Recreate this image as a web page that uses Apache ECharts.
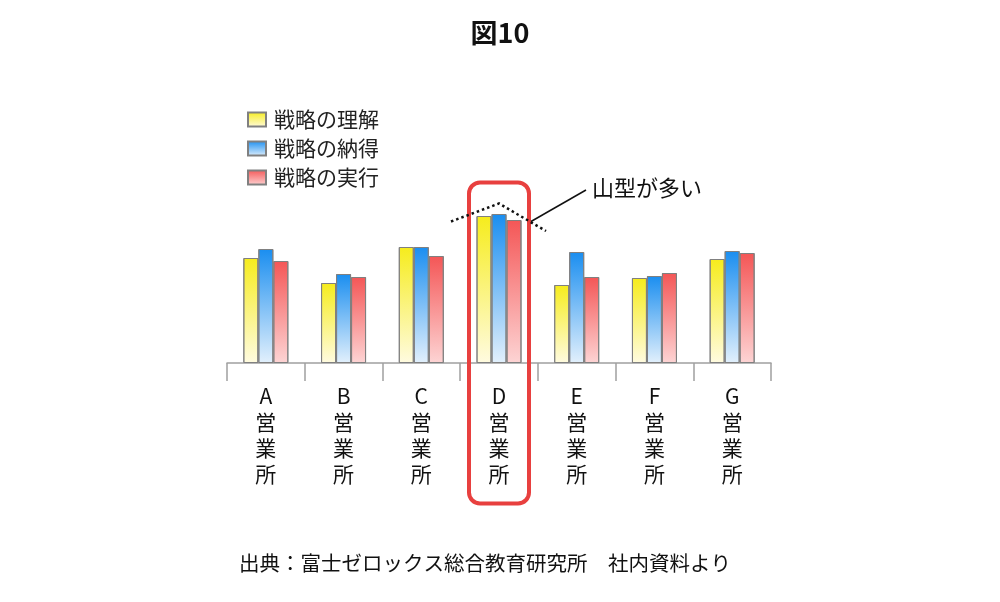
<!DOCTYPE html>
<html>
<head>
<meta charset="utf-8">
<script src="https://cdn.jsdelivr.net/npm/echarts@6/dist/echarts.min.js"></script>
<style>
  html, body { margin: 0; padding: 0; background: #fff; }
  #main { width: 1000px; height: 602px; }
</style>
</head>
<body>
<div id="main"></div>
<script>
// 営業所ごとの値
const categories = ['A営業所', 'B営業所', 'C営業所', 'D営業所', 'E営業所', 'F営業所', 'G営業所'];
const seriesNames = ['戦略の理解', '戦略の納得', '戦略の実行'];
const rikai = [105, 80, 116, 147, 78, 85, 104];
const nattoku = [114, 89, 116, 149, 111, 87, 112];
const jikko = [102, 86, 107, 143, 86, 90, 110];

const FONT = '"Noto Sans CJK JP", "Noto Sans", sans-serif';

const grad = (top, bottom) => new echarts.graphic.LinearGradient(0, 0, 0, 1, [
  { offset: 0, color: top },
  { offset: 1, color: bottom }
]);

const colors = [
  grad('#f6ec1c', '#fffbe0'),
  grad('#1a8ef0', '#e2f0fc'),
  grad('#f45656', '#fdd4d4')
];

const myChart = echarts.init(document.getElementById('main'));

const barSeries = [rikai, nattoku, jikko].map((d, i) => ({
  name: seriesNames[i],
  type: 'bar',
  data: d,
  barWidth: 15,
  barGap: '0%',
  itemStyle: { color: colors[i], borderColor: '#808080', borderWidth: 1 }
}));

myChart.setOption({
  animation: false,
  textStyle: { fontFamily: FONT },
  title: {
    text: '図10',
    left: 'center',
    top: 14,
    textStyle: { fontSize: 27, fontWeight: 'bold', color: '#111', fontFamily: FONT }
  },
  legend: {
    orient: 'vertical',
    left: 242,
    top: 104,
    icon: 'rect',
    itemWidth: 18,
    itemHeight: 14,
    itemGap: 8,
    textStyle: { fontSize: 21, color: '#222', padding: [0, 0, 0, 3] },
    data: seriesNames
  },
  grid: { left: 227, right: 229, top: 163, bottom: 239 },
  xAxis: {
    type: 'category',
    data: categories,
    axisLine: { lineStyle: { color: '#a0a0a0', width: 1.5 } },
    axisTick: { show: true, length: 18, lineStyle: { color: '#a0a0a0', width: 1.5 } },
    axisLabel: {
      margin: 20,
      fontSize: 21,
      lineHeight: 26,
      color: '#111',
      formatter: v => v.split('').join('\n')
    }
  },
  yAxis: { type: 'value', min: 0, max: 200, show: false },
  series: barSeries
});

// D営業所の注記（位置はD軸の座標から求める）
const dx = myChart.convertToPixel({ xAxisIndex: 0 }, 'D営業所');
myChart.setOption({
  graphic: [
    {
      type: 'rect',
      shape: { x: dx - 30, y: 182.5, width: 60, height: 321, r: 11 },
      style: { fill: 'none', stroke: '#e8403f', lineWidth: 4 },
      z: 10
    },
    {
      type: 'polyline',
      shape: { points: [[dx - 48, 221.5], [dx, 203.5], [dx + 47, 231]] },
      style: { fill: 'none', stroke: '#111', lineWidth: 2.5, lineDash: [2.5, 3] },
      z: 10
    },
    {
      type: 'line',
      shape: { x1: dx + 32, y1: 221.5, x2: dx + 87, y2: 190 },
      style: { stroke: '#111', lineWidth: 1.5 },
      z: 10
    },
    {
      type: 'text',
      x: dx + 93,
      y: 188,
      style: {
        text: '山型が多い',
        font: '22px ' + FONT,
        fill: '#111',
        textVerticalAlign: 'middle'
      },
      z: 10
    },
    {
      type: 'text',
      x: 485,
      y: 563,
      style: {
        text: '出典：富士ゼロックス総合教育研究所　社内資料より',
        font: '20.5px ' + FONT,
        fill: '#111',
        textAlign: 'center',
        textVerticalAlign: 'middle'
      }
    }
  ]
});
</script>
</body>
</html>
